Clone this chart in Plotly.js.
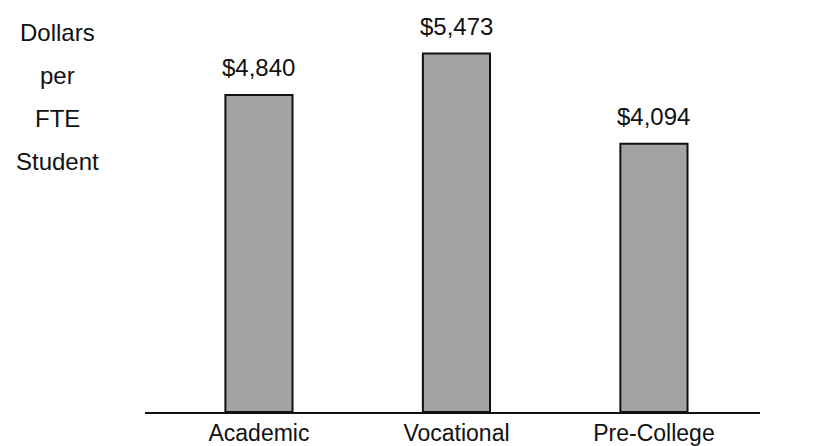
<!DOCTYPE html>
<html><head><meta charset="utf-8">
<script src="https://cdn.plot.ly/plotly-3.0.1.min.js"></script>
<style>html,body{margin:0;padding:0;background:#fff}#chart{width:829px;height:446px}</style>
</head><body><div id="chart"></div>
<script>
const categories = ["Academic", "Vocational", "Pre-College"];
const values = [4840, 5473, 4094];
const valueLabels = ["$4,840", "$5,473", "$4,094"];
const yTitleLines = ["Dollars", "per", "FTE", "Student"];

const FONT = "Liberation Sans, Arial, sans-serif";

const trace = {
  type: "bar",
  x: categories,
  y: values,
  width: 0.34,
  marker: {color: "#a3a3a3", line: {color: "#111", width: 2}},
  hoverinfo: "skip"
};

const annotations = [];
values.forEach((v, i) => {
  annotations.push({
    x: categories[i], y: v, xref: "x", yref: "y",
    text: valueLabels[i], showarrow: false,
    yanchor: "bottom", yshift: 12,
    font: {family: FONT, size: 24, color: "#111"}
  });
});
yTitleLines.forEach((t, i) => {
  annotations.push({
    x: -0.143, y: 0.967 - i * 0.1097, xref: "paper", yref: "paper",
    text: t, showarrow: false, xanchor: "center", yanchor: "middle",
    font: {family: FONT, size: 24, color: "#111"}
  });
});

const layout = {
  width: 829, height: 446,
  margin: {l: 145, r: 69, t: 20, b: 34},
  paper_bgcolor: "#fff", plot_bgcolor: "#fff",
  showlegend: false,
  xaxis: {
    type: "category",
    range: [-0.577, 2.537],
    showgrid: false, zeroline: false,
    showline: true, linecolor: "#111", linewidth: 1.5,
    ticks: "",
    tickfont: {family: FONT, size: 23, color: "#111"}
  },
  yaxis: {
    range: [0, 5985],
    visible: false, showgrid: false, zeroline: false
  },
  annotations: annotations
};

Plotly.newPlot("chart", [trace], layout, {staticPlot: true, displayModeBar: false});
</script>
</body></html>
